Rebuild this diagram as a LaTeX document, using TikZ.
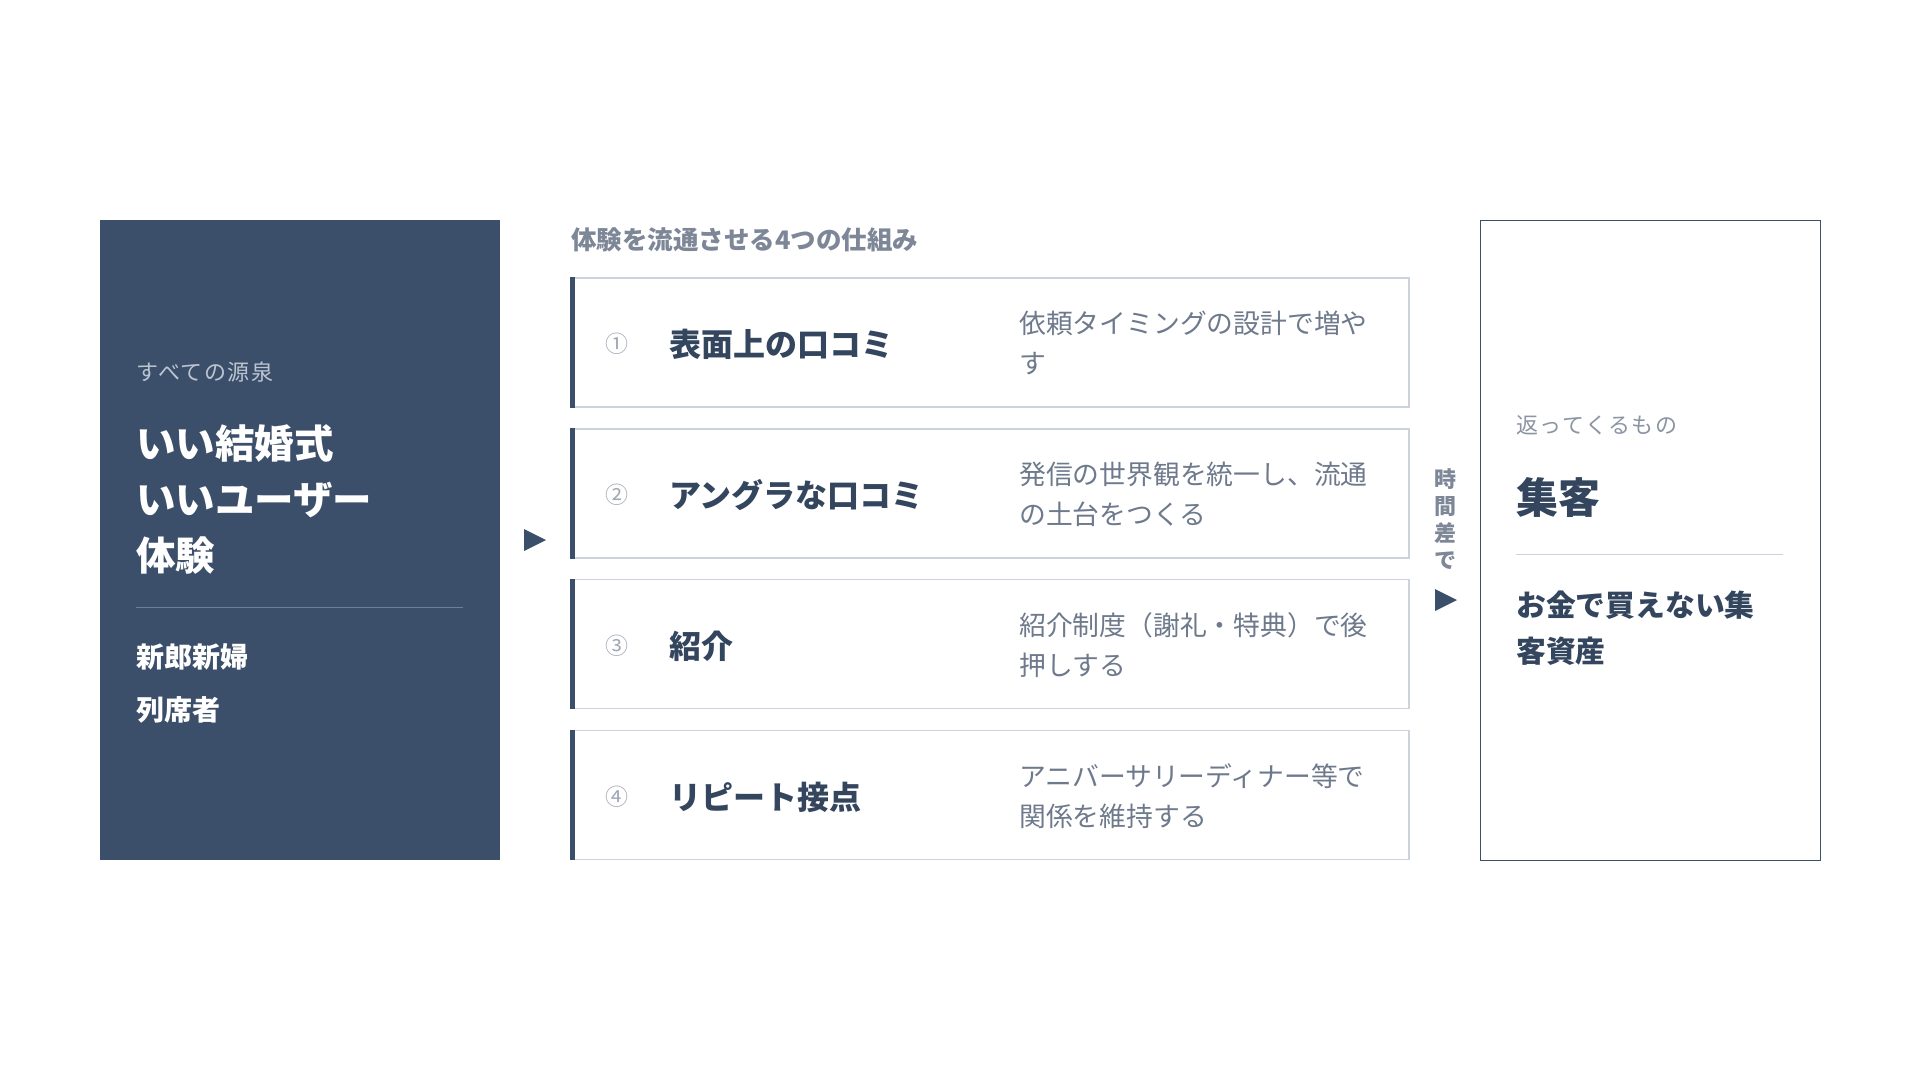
\documentclass[tikz,border=0pt]{standalone}
\usepackage{fontspec}
\setmainfont{Noto Sans CJK JP}
\newfontfamily\jp{Noto Sans CJK JP}
\newfontfamily\jpsp{Noto Sans CJK JP}[LetterSpace=7]
\definecolor{navy}{HTML}{3C4F6A}
\definecolor{titlec}{HTML}{34455E}
\definecolor{headc}{HTML}{7D8797}
\definecolor{descc}{HTML}{6E7A8C}
\definecolor{boxc}{HTML}{CDD3DC}
\definecolor{subc}{HTML}{BCC5D1}
\definecolor{ldiv}{HTML}{6E7E95}
\definecolor{numc}{HTML}{A0A8B5}
\definecolor{retc}{HTML}{8A94A3}
\tikzset{
  txt/.style={inner sep=0pt, anchor=west, align=left},
  rowbox/.style={draw=boxc, line width=1.2pt, fill=white, minimum width=838pt, minimum height=129pt, inner sep=0pt},
  numtxt/.style={txt, anchor=center, text=numc, font=\jp\fontsize{23}{26}\selectfont},
  rowtitle/.style={txt, text=titlec, font=\jp\bfseries\fontsize{32}{38}\selectfont},
  rowdesc/.style={txt, text=descc, font=\jp\fontsize{26.8}{40}\selectfont},
  tri/.style={fill=navy}
}
\begin{document}
\begin{tikzpicture}[x=1pt,y=-1pt]
\useasboundingbox (0,0) rectangle (1920,1080);
\fill[white] (0,0) rectangle (1920,1080);

% left panel
\node[fill=navy, minimum width=400pt, minimum height=640pt, inner sep=0pt, anchor=north west] (src) at (100,220) {};
\node[txt, text=subc, font=\jpsp\fontsize{22}{26}\selectfont] (srcsub) at (136,372) {すべての源泉};
\node[txt, text=white, font=\jp\bfseries\fontsize{39.5}{56}\selectfont] (srctitle) at (136,499) {いい結婚式\\いいユーザー\\体験};
\coordinate (ldA) at (136,607);
\coordinate (ldB) at (463,607);
\draw[ldiv, line width=1pt] (ldA) -- (ldB);
\node[txt, text=white, font=\jp\bfseries\fontsize{28}{53}\selectfont] (who) at (136,683) {新郎新婦\\列席者};

% arrow 1
\fill[tri] (524,529) -- (546,540) -- (524,551) -- cycle;

% header
\node[txt, text=headc, font=\jp\bfseries\fontsize{25.5}{30}\selectfont] (head) at (571,240) {体験を流通させる4つの仕組み};

% rows
\node[rowbox] (r1) at (990,342.5) {};
\node[rowbox] (r2) at (990,493.5) {};
\node[rowbox] (r3) at (990,644) {};
\node[rowbox] (r4) at (990,795) {};
\foreach \r in {r1,r2,r3,r4}{
  \fill[navy] (\r.north west) rectangle ([xshift=4.5pt]\r.south west);
}
\node[numtxt] (n1) at (617,344) {①};
\node[numtxt] (n2) at (617,495) {②};
\node[numtxt] (n3) at (617,646) {③};
\node[numtxt] (n4) at (617,797) {④};
\node[rowtitle] (t1) at (669,344) {表面上の口コミ};
\node[rowtitle] (t2) at (669,495) {アングラな口コミ};
\node[rowtitle] (t3) at (669,646) {紹介};
\node[rowtitle] (t4) at (669,797) {リピート接点};
\node[rowdesc] (d1) at (1019,343) {依頼タイミングの設計で増や\\す};
\node[rowdesc] (d2) at (1019,494) {発信の世界観を統一し、流通\\の土台をつくる};
\node[rowdesc] (d3) at (1019,645) {紹介制度（謝礼・特典）で後\\押しする};
\node[rowdesc] (d4) at (1019,796) {アニバーサリーディナー等で\\関係を維持する};

% time lag
\node[inner sep=0pt, align=center, text=headc, font=\jp\bfseries\fontsize{22}{27}\selectfont] (lag) at (1445,519) {時\\間\\差\\で};
\fill[tri] (1435,589) -- (1457,600) -- (1435,611) -- cycle;

% right box
\node[draw=navy, line width=1.3pt, fill=white, minimum width=340pt, minimum height=640pt, inner sep=0pt, anchor=north west] (ret) at (1480,220) {};
\node[txt, text=retc, font=\jpsp\fontsize{22}{26}\selectfont] (retsub) at (1516,425) {返ってくるもの};
\node[txt, text=titlec, font=\jp\bfseries\fontsize{42}{50}\selectfont] (rettitle) at (1516,498) {集客};
\coordinate (rdA) at (1516,554);
\coordinate (rdB) at (1783,554);
\draw[boxc, line width=1pt] (rdA) -- (rdB);
\node[txt, text=titlec, font=\jp\bfseries\fontsize{29.8}{46}\selectfont] (retdesc) at (1516,628) {お金で買えない集\\客資産};
\end{tikzpicture}
\end{document}
